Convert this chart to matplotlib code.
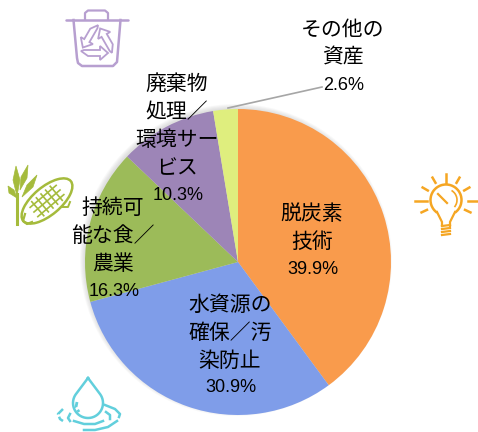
import numpy as np
import matplotlib
matplotlib.use("Agg")
import matplotlib.pyplot as plt
from matplotlib.patches import Circle, Ellipse, Arc, Polygon

plt.rcParams['font.family'] = ['Noto Sans CJK JP', 'DejaVu Sans']

names = ["脱炭素\n技術", "水資源の\n確保／汚\n染防止", "持続可\n能な食／\n農業", "廃棄物\n処理／\n環境サー\nビス", "その他の\n資産"]
values = [39.9, 30.9, 16.3, 10.3, 2.6]
colors = ["#F99B4C", "#7F9DE9", "#9CBB59", "#9D85B7", "#DFEE7E"]
label_x = [312, 230, 113, 177, 343]
label_top = [200, 291, 194, 70, 16]

W, H = 478, 432
fig = plt.figure(figsize=(W / 100, H / 100), dpi=100)

# Overlay in pixel coordinates for the icons and text
ov = fig.add_axes([0, 0, 1, 1], zorder=3)
ov.set_xlim(0, W)
ov.set_ylim(H, 0)
ov.axis("off")

# Pie
cx, cy, r = 238, 262, 153
pie_ax = fig.add_axes([(cx - r) / W, 1 - (cy + r) / H, 2 * r / W, 2 * r / H], zorder=2)
pie_ax.pie(values, colors=colors, startangle=90, counterclock=False, radius=1)
pie_ax.set_xlim(-1, 1)
pie_ax.set_ylim(-1, 1)

# Soft shadow behind the pie
bg = fig.add_axes([0, 0, 1, 1], zorder=1)
bg.set_xlim(0, W)
bg.set_ylim(H, 0)
bg.axis("off")
for i in range(5):
    bg.add_patch(Circle((cx - 2, cy - 2), r + 3 - i, color="#808080", alpha=0.05, lw=0))

# Labels
for name, val, x, top in zip(names, values, label_x, label_top):
    lines = name.split("\n")
    for i, line in enumerate(lines):
        ov.text(x, top + 14 + 28 * i, line, fontsize=15, ha="center", va="center", color="#000000")
    ov.text(x + 1, top + 14 + 28 * len(lines) - 1, f"{val}%", fontsize=13, ha="center", va="center",
            color="#000000", family=["Liberation Sans Narrow", "Liberation Sans"])

# Leader line for その他の資産
ov.plot([228, 322], [108, 87], color="#A6A6A6", lw=1.2)

# Recycle bin icon
purple = "#B79FD0"
ov.plot([66, 128], [19.5, 19.5], color=purple, lw=1.8, solid_capstyle="round")
ov.plot([85, 85, 88, 105, 108, 108], [19, 13, 10.5, 10.5, 13, 19], color=purple, lw=1.6)
ov.plot([73.5, 77, 78, 82, 113, 117, 120.5], [20, 58, 63, 66, 66, 62, 20], color=purple, lw=1.8)
arrow = np.array([[-13, 7], [3, 7], [3, 3], [11, 10], [3, 17], [3, 13], [-9, 13], [-16, 8]])
for ang in [0, 120, 240]:
    a = np.radians(ang)
    rot = np.array([[np.cos(a), -np.sin(a)], [np.sin(a), np.cos(a)]])
    ov.add_patch(Polygon(arrow @ rot.T + np.array([97, 43]), closed=True, fill=False, ec=purple, lw=1.3))

# Light bulb icon
orange = "#F5A623"
ov.add_patch(Arc((446, 200), 31, 31, theta1=125, theta2=415, ec=orange, lw=1.8))
ov.add_patch(Arc((446, 200), 22, 22, theta1=-60, theta2=40, ec=orange, lw=1.2))
ov.plot([437, 442, 442], [212, 222, 226], color=orange, lw=1.6)
ov.plot([455, 450, 450], [212, 222, 226], color=orange, lw=1.6)
for y in [226, 229, 232, 235]:
    ov.plot([442, 450], [y, y - 1], color=orange, lw=1.6)
ov.plot([438, 447], [194, 203], color=orange, lw=1.6)
for ang, r0, r1 in [(0, 22, 31), (180, 19, 31), (90, 18, 27), (30, 21, 27), (60, 21, 27), (120, 21, 27),
                    (150, 21, 27), (-25, 21, 27), (205, 21, 27)]:
    a = np.radians(ang)
    ov.plot([446 + r0 * np.cos(a), 446 + r1 * np.cos(a)], [201 - r0 * np.sin(a), 201 - r1 * np.sin(a)],
            color=orange, lw=1.8)

# Water drop icon
cyan = "#62CFDC"
t = np.radians(np.linspace(-35, 215, 40))
ov.plot(np.r_[88, 88 + 15 * np.cos(t), 88], np.r_[378, 403 + 15 * np.sin(t), 378], color=cyan, lw=1.8)
ov.plot([77, 76, 79], [402, 407, 412], color=cyan, lw=2, ls=(0, (2, 1)))
ov.plot([63, 58, 60, 63], [409, 414, 419, 421], color=cyan, lw=1.8, ls=(0, (3, 1)))
ov.plot([70, 68, 70], [414, 418, 421], color=cyan, lw=1.8)
ov.plot([74, 84, 95, 103], [421, 424, 424, 421], color=cyan, lw=1.8)
ov.plot([84, 95, 108, 117], [430, 430, 427, 421], color=cyan, lw=1.8)
ov.plot([105, 115, 120, 119], [405, 409, 414, 417], color=cyan, lw=1.8)
ov.plot([106, 110, 110], [412, 415, 419], color=cyan, lw=1.8)

# Corn icon
green = "#A5BB3C"
ov.add_patch(Ellipse((47, 201), 62, 28, angle=-40, fill=False, ec=green, lw=1.8))
for d in [-12, -6, 0, 6, 12]:
    ov.plot([47 + d * 0.77 - 6, 47 + d * 0.77 + 6], [201 - d * 0.64 - 7, 201 - d * 0.64 + 7], color=green, lw=1.2)
for d in [-6, 0, 6]:
    ov.plot([47 + d * 0.64 - 13, 47 + d * 0.64 + 13], [201 + d * 0.77 + 11, 201 + d * 0.77 - 11], color=green, lw=1.2)
ov.plot([17, 17], [224, 194], color=green, lw=2.2)
ov.add_patch(Polygon([[17, 198], [9, 193], [8, 186], [14, 190]], color=green, lw=0.5))
ov.add_patch(Polygon([[17, 196], [13, 180], [16, 166], [20, 180]], color=green, lw=0.5))
ov.add_patch(Polygon([[20, 190], [21, 177], [28, 165], [27, 178]], color=green, lw=0.5))
ov.add_patch(Polygon([[22, 197], [27, 185], [37, 175], [33, 187]], color=green, lw=0.5))
ov.plot([25, 23, 27, 32], [214, 221, 224, 222], color=green, lw=1.6)
ov.plot([62, 68, 70], [207, 207, 202], color=green, lw=1.4)

plt.savefig("out.png", dpi=100)
plt.close()
